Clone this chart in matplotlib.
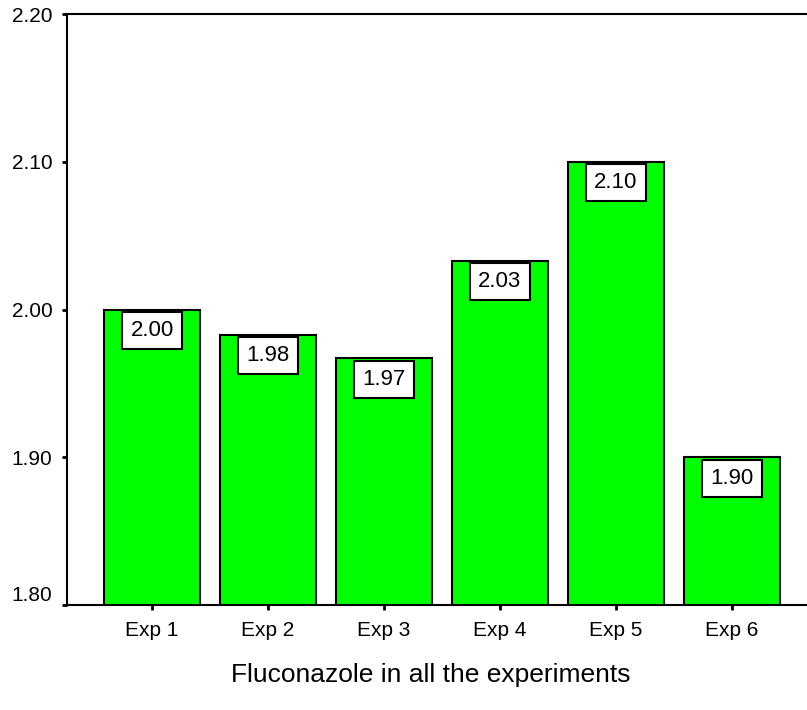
import matplotlib
matplotlib.use("Agg")
import matplotlib.pyplot as plt
import numpy as np

plt.rcParams['font.family'] = ['Liberation Sans', 'DejaVu Sans']

categories = ["Exp 1", "Exp 2", "Exp 3", "Exp 4", "Exp 5", "Exp 6"]
values = [2.00, 1.983, 1.967, 2.033, 2.10, 1.90]
labels = ["2.00", "1.98", "1.97", "2.03", "2.10", "1.90"]
yticks = [1.80, 1.90, 2.00, 2.10, 2.20]

fig = plt.figure(figsize=(8.07, 7.10), dpi=100)
ax = fig.add_axes([67/807, 1 - 605/710, 1 - 67/807, (605 - 14)/710])

x = np.arange(len(categories))
ax.bar(x, values, width=0.83, color="#00ff00", edgecolor="black", linewidth=1.5, zorder=2)

for xi, v, lab in zip(x, values, labels):
    ax.annotate(lab, (xi, v), xytext=(0, -21), textcoords="offset pixels",
                ha="center", va="center", fontsize=16, zorder=3,
                bbox=dict(boxstyle="square,pad=0.37", fc="white", ec="black", lw=1.5))

ax.set_ylim(1.80, 2.20)
ax.set_xlim(-0.733, 5.647)
ax.set_yticks(yticks)
ax.set_yticklabels([f"{t:.2f}" for t in yticks], fontsize=15)
ax.set_xticks(x)
ax.set_xticklabels(categories, fontsize=15)
ax.tick_params(axis="both", length=3.5, width=2, direction="out")
ax.tick_params(axis="y", pad=7)
ax.tick_params(axis="x", pad=8)
ylabs = ax.get_yticklabels()
ylabs[0].set_va("bottom")

ax.spines["right"].set_visible(False)
for s in ["left", "top", "bottom"]:
    ax.spines[s].set_linewidth(1.5)
    ax.spines[s].set_color("black")

fig.text(431/807, 1 - 675/710, "Fluconazole in all the experiments",
         ha="center", va="center", fontsize=19)

fig.savefig("out.png", dpi=100)
